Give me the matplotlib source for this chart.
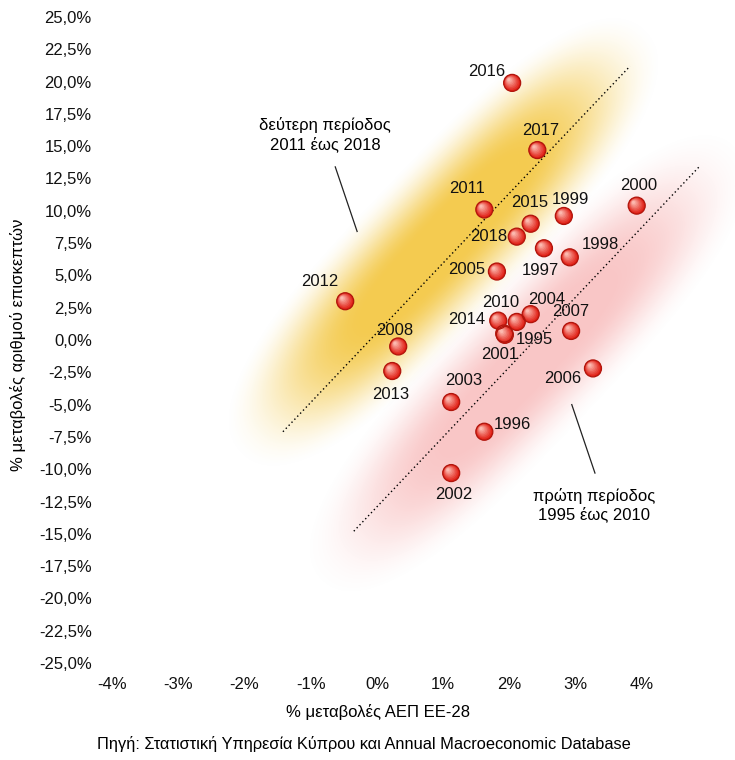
import numpy as np
import matplotlib.pyplot as plt
from matplotlib import transforms

plt.rcParams['font.family'] = ['Liberation Sans', 'DejaVu Sans']

# data (% change)
years = [1995, 1996, 1997, 1998, 1999, 2000, 2001, 2002, 2003, 2004, 2005, 2006,
         2007, 2008, 2010, 2011, 2012, 2013, 2014, 2015, 2016, 2017, 2018]
gdp_change = [1.93, 1.62, 2.52, 2.91, 2.82, 3.92, 1.92, 1.12, 1.12, 2.32, 1.81, 3.26,
              2.93, 0.32, 2.11, 1.62, -0.48, 0.23, 1.83, 2.32, 2.04, 2.42, 2.11]
visitors_change = [0.4, -7.1, 7.1, 6.4, 9.6, 10.4, 0.5, -10.3, -4.8, 2.0, 5.3, -2.2,
                   0.7, -0.5, 1.4, 10.1, 3.0, -2.4, 1.5, 9.0, 19.9, 14.7, 8.0]

# trend lines (start / end)
trend_first_x = [-0.35, 4.88]
trend_first_y = [-14.8, 13.5]
trend_second_x = [-1.42, 3.82]
trend_second_y = [-7.1, 21.2]

x_ticks = [-4, -3, -2, -1, 0, 1, 2, 3, 4]
y_ticks = np.arange(-25, 25.1, 2.5)

# label placement: (dx px, dy px, ha)
label_pos = {
    1995: (30, -5, 'center'), 1996: (9, 7, 'left'), 1997: (-4, -22, 'center'),
    1998: (12, 13, 'left'), 1999: (7, 16, 'center'), 2000: (2, 20, 'center'),
    2001: (-5, -21, 'center'), 2002: (3, -21, 'center'), 2003: (12, 22, 'center'),
    2004: (16, 15, 'center'), 2005: (-12, 2, 'right'), 2006: (-12, -10, 'right'),
    2007: (0, 19, 'center'), 2008: (-4, 16, 'center'), 2010: (-16, 19, 'center'),
    2011: (-17, 21, 'center'), 2012: (-25, 20, 'center'), 2013: (-2, -23, 'center'),
    2014: (-13, 1, 'right'), 2015: (-1, 21, 'center'), 2016: (-7, 11, 'right'),
    2017: (3, 20, 'center'), 2018: (-10, 0, 'right'),
}


def glow(ax, line_x, line_y, center, half_len, half_wid, rgb, peak):
    x0, x1 = ax.get_xlim()
    y0, y1 = ax.get_ylim()
    bb = ax.get_window_extent()
    nx, ny = int(bb.width), int(bb.height)
    gx, gy = np.meshgrid(np.linspace(x0, x1, nx), np.linspace(y0, y1, ny))
    pts = ax.transData.transform(np.column_stack([gx.ravel(), gy.ravel()]))
    c = ax.transData.transform(center)
    p = ax.transData.transform(np.column_stack([line_x, line_y]))
    d = p[1] - p[0]
    d = d / np.hypot(*d)
    rel = pts - c
    u = rel @ d
    v = rel @ np.array([-d[1], d[0]])
    # capsule-like soft shape
    r = (np.abs(u / half_len) ** 3 + np.abs(v / half_wid) ** 2.2) ** 0.4
    t = np.clip((r - 0.3) / 0.7, 0, 1)
    a = peak * (1 - t * t * (3 - 2 * t))
    img = np.zeros((ny, nx, 4))
    img[..., :3] = np.array(rgb) / 255
    img[..., 3] = a.reshape(ny, nx)
    ax.imshow(img, extent=(x0, x1, y0, y1), origin='lower', aspect='auto',
              zorder=0, interpolation='bilinear')
    ax.set_xlim(x0, x1)
    ax.set_ylim(y0, y1)


fig = plt.figure(figsize=(7.35, 7.6), dpi=100)
ax = fig.add_axes([98.75 / 735, 97 / 760, 636 / 735, 646 / 760])
ax.set_xlim(-4.2, 5.4)
ax.set_ylim(-25, 25)
for s in ax.spines.values():
    s.set_visible(False)

glow(ax, trend_second_x, trend_second_y, (1.0, 7.6), 300, 82,
     (242, 188, 30), 0.78)
glow(ax, trend_first_x, trend_first_y, (2.28, -1.8), 310, 80,
     (242, 120, 120), 0.42)

ax.plot(trend_second_x, trend_second_y, color='black', lw=1, ls=(0, (1, 2)), zorder=2)
ax.plot(trend_first_x, trend_first_y, color='black', lw=1, ls=(0, (1, 2)), zorder=2)

# glossy markers
base = np.array([224, 30, 20]) / 255
light = np.array([252, 185, 175]) / 255
n = 8
for k in range(n):
    f = k / (n - 1)
    col = base * (1 - f) + light * f
    tr = transforms.offset_copy(ax.transData, fig=fig, x=-3.2 * f, y=3.2 * f, units='dots')
    ax.scatter(gdp_change, visitors_change, s=150 * (1 - 0.82 * f) ** 2, color=col,
               edgecolors='none', transform=tr, zorder=3 + k * 0.01)
ax.scatter(gdp_change, visitors_change, s=150, facecolors='none',
           edgecolors='#b0150c', linewidths=0.9, zorder=4)

for yr, gx, vy in zip(years, gdp_change, visitors_change):
    dx, dy, ha = label_pos[yr]
    ax.annotate(str(yr), (gx, vy), xytext=(dx, dy), textcoords='offset pixels',
                ha=ha, va='center', fontsize=12, color='#111111', zorder=5)

ax.set_xticks(x_ticks)
ax.set_xticklabels([f'{t}%' for t in x_ticks])
ax.set_yticks(y_ticks)
ax.set_yticklabels([f'{t:.1f}%'.replace('.', ',') for t in y_ticks])
ax.tick_params(axis='both', length=0, labelsize=12, colors='#111111')
ax.tick_params(axis='y', pad=5)
ax.tick_params(axis='x', pad=10)

# period notes
ax.text(-0.78, 15.9, 'δεύτερη περίοδος\n2011 έως 2018', ha='center', va='center',
        fontsize=12, linespacing=1.2)
ax.plot([-0.63, -0.30], [13.4, 8.4], color='#222222', lw=0.9)
ax.text(3.28, -12.8, 'πρώτη περίοδος\n1995 έως 2010', ha='center', va='center',
        fontsize=12, linespacing=1.2)
ax.plot([2.94, 3.29], [-5.0, -10.3], color='#222222', lw=0.9)

fig.text(18 / 735, 1 - 345 / 760, '% μεταβολές αριθμού επισκεπτών', rotation=90,
         ha='center', va='center', fontsize=12)
fig.text(378 / 735, 1 - 712 / 760, '% μεταβολές ΑΕΠ ΕΕ-28', ha='center', va='center',
         fontsize=12)
fig.text(364 / 735, 1 - 744 / 760,
         'Πηγή: Στατιστική Υπηρεσία Κύπρου και Annual Macroeconomic Database',
         ha='center', va='center', fontsize=11.8)

fig.savefig('out.png', dpi=100)
